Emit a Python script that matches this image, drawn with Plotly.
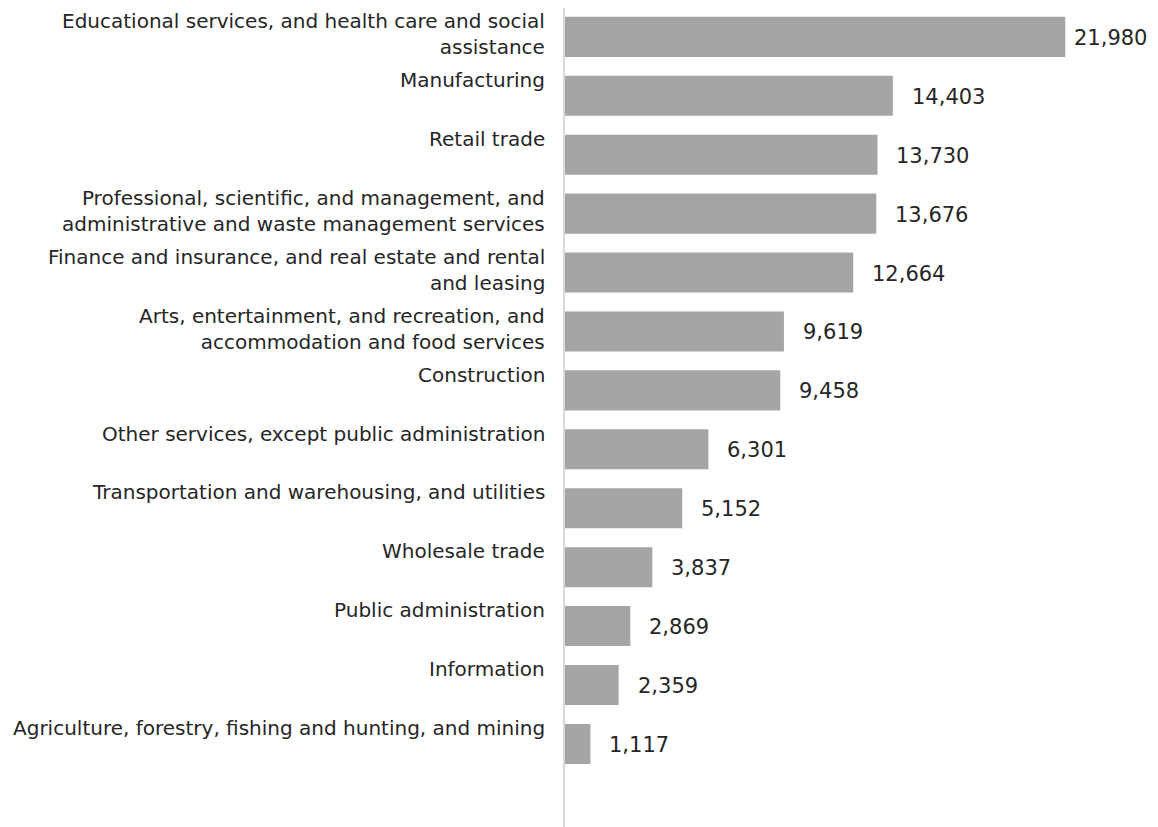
import plotly.graph_objects as go

categories = [
    "Educational services, and health care and social<br>assistance",
    "Manufacturing",
    "Retail trade",
    "Professional, scientific, and management, and<br>administrative and waste management services",
    "Finance and insurance, and real estate and rental<br>and leasing",
    "Arts, entertainment, and recreation, and<br>accommodation and food services",
    "Construction",
    "Other services, except public administration",
    "Transportation and warehousing, and utilities",
    "Wholesale trade",
    "Public administration",
    "Information",
    "Agriculture, forestry, fishing and hunting, and mining",
]
values = [21980, 14403, 13730, 13676, 12664, 9619, 9458, 6301, 5152, 3837, 2869, 2359, 1117]

FONT = "DejaVu Sans"
XMAX = 25000
positions = list(range(len(categories)))

fig = go.Figure()
fig.add_trace(go.Bar(
    x=values,
    y=positions,
    orientation="h",
    width=0.68,
    marker=dict(color="#A5A5A5", line=dict(width=0)),
    hoverinfo="skip",
))

# category labels (top-aligned within each band, right-aligned left of the axis)
for i, c in enumerate(categories):
    fig.add_annotation(
        x=0, xref="paper", xanchor="right", xshift=-18,
        y=i - 0.48, yref="y", yanchor="top", yshift=1.5,
        text=c, align="right", showarrow=False,
        font=dict(family=FONT, size=20, color="#262626"),
    )

# value labels to the right of each bar
for i, v in enumerate(values):
    shift = 17 if v < 0.85 * XMAX else 7
    fig.add_annotation(
        x=v, xref="x", xanchor="left", xshift=shift,
        y=i, yref="y", yanchor="middle", yshift=-1,
        text=f"{v:,}", showarrow=False,
        font=dict(family=FONT, size=21, color="#262626"),
    )

fig.update_layout(
    width=1158, height=827,
    margin=dict(l=565, r=24, t=8, b=0),
    paper_bgcolor="white", plot_bgcolor="white",
    showlegend=False,
    xaxis=dict(range=[0, XMAX], visible=False, fixedrange=True),
    yaxis=dict(range=[13.41, -0.49], showticklabels=False, showgrid=False,
               zeroline=False, showline=True, linecolor="#D9D9D9", linewidth=1.5,
               ticks="", fixedrange=True),
)

fig.write_html("out.html")
